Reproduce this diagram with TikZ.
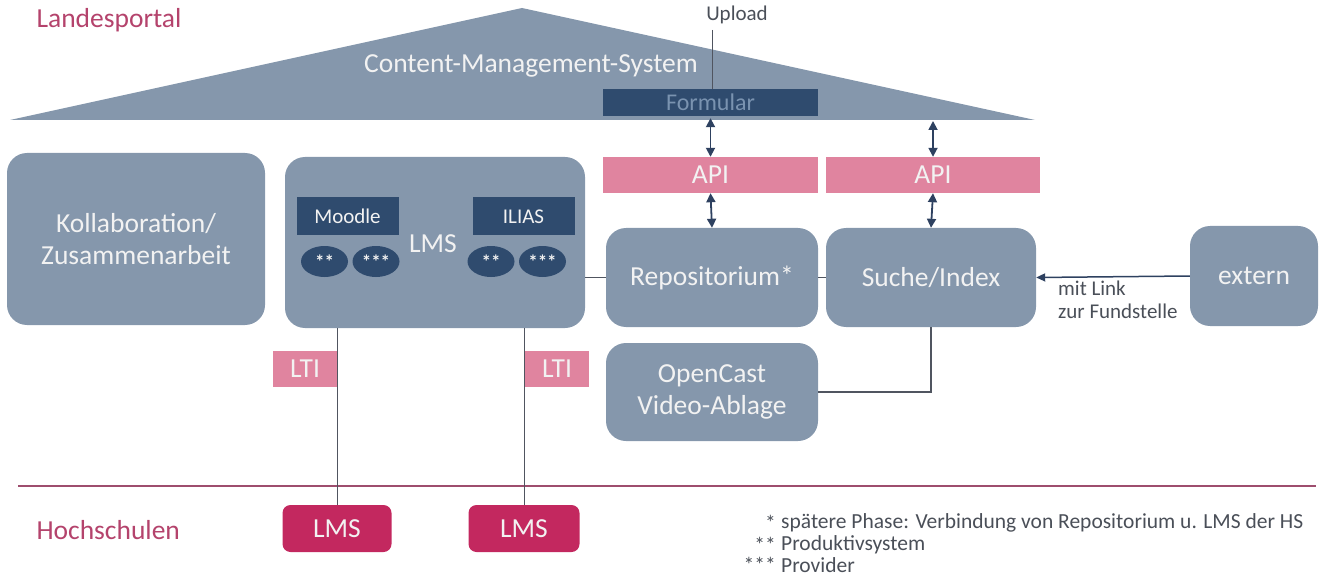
\documentclass[tikz,border=0pt]{standalone}
\usepackage{fontspec}
\setmainfont{Carlito}
\usetikzlibrary{arrows.meta,shapes.geometric}
\definecolor{boxgray}{HTML}{8597AC}
\definecolor{navy}{HTML}{2F4B6E}
\definecolor{apipink}{HTML}{E0849F}
\definecolor{lmsred}{HTML}{C3285F}
\definecolor{labelred}{HTML}{B4436C}
\definecolor{arrowc}{HTML}{2E4160}
\definecolor{linec}{HTML}{505560}
\definecolor{formtext}{HTML}{7A93B0}
\definecolor{txtlight}{HTML}{F2F2F2}
\definecolor{hline}{HTML}{9E4E6E}
\definecolor{foottext}{HTML}{4A4F58}
\begin{document}
\begin{tikzpicture}[x=1pt,y=-1pt,
  bigfont/.style={font=\fontsize{27.5}{32}\selectfont},
  smallfont/.style={font=\fontsize{21}{23}\selectfont},
  graybox/.style={fill=boxgray, rounded corners=20pt, inner sep=0pt, text=txtlight, bigfont, align=center},
  navybox/.style={fill=navy, inner sep=0pt, text=txtlight, smallfont},
  pinkbox/.style={fill=apipink, inner sep=0pt, text=txtlight, bigfont},
  lmsbox/.style={fill=lmsred, rounded corners=8pt, inner sep=0pt, text=txtlight, bigfont},
  oval/.style={ellipse, fill=navy, inner sep=0pt, minimum width=47pt, minimum height=31pt, text=txtlight, font=\fontsize{19}{19}\bfseries\selectfont},
  dbl/.style={{Triangle[length=9pt,width=9pt]}-{Triangle[length=9pt,width=9pt]}, line width=1.8pt, draw=arrowc},
  conn/.style={draw=linec, line width=1.2pt},
  region/.style={text=labelred, bigfont, anchor=west},
  foot/.style={font=\fontsize{21.5}{23}\selectfont, text=foottext}
]
\useasboundingbox (0,0) rectangle (1321,577);

% roof
\fill[boxgray] (10,120) -- (522,8) -- (1035,120) -- cycle;
\node[bigfont, text=txtlight] (cms) at (531,66) {Content-Management-System};
\node[navybox, text=formtext, font=\fontsize{24}{26}\selectfont, minimum width=215pt, minimum height=27pt] (formular) at (710.5,102.5) {Formular};
\node[smallfont, text=foottext] (upload) at (737,15) {Upload};
\coordinate (uptop) at (712,30);
\draw[conn, line width=1pt] (uptop) -- (uptop |- formular.north);
\coordinate (roofbase) at (933,121);

\node[region] (landes) at (33,20) {Landesportal};

% API boxes
\node[pinkbox, minimum width=215pt, minimum height=36pt] (api1) at (710.5,175) {API};
\node[pinkbox, minimum width=214pt, minimum height=36pt] (api2) at (933,175) {API};

% main boxes
\node[graybox, minimum width=258pt, minimum height=172pt] (kollab) at (136,239) {Kollaboration/\\Zusammenarbeit};
\node[graybox, minimum width=300pt, minimum height=171pt] (lmsbig) at (435,242.5) {};
\node[text=txtlight, bigfont] (lmstext) at (433,244) {LMS};
\node[navybox, minimum width=102pt, minimum height=38pt] (moodle) at (347.5,216.5) {Moodle};
\node[navybox, minimum width=102pt, minimum height=38pt] (ilias) at (523.5,216.5) {ILIAS};
\node[oval] (m1) at (324.5,261.5) {\raisebox{-5pt}{**}};
\node[oval] (m2) at (376,261.5) {\raisebox{-5pt}{***}};
\node[oval] (i1) at (491,261.5) {\raisebox{-5pt}{**}};
\node[oval] (i2) at (542.5,261.5) {\raisebox{-5pt}{***}};

\node[graybox, minimum width=212pt, minimum height=99pt] (repo) at (712,277.5) {Repositorium*};
\node[graybox, minimum width=210pt, minimum height=99pt] (suche) at (931,277.5) {Suche/Index};
\node[graybox, minimum width=128pt, minimum height=100pt] (extern) at (1254,276) {extern};
\node[graybox, minimum width=212pt, minimum height=98pt] (opencast) at (712,392) {OpenCast\\Video-Ablage};

% LTI
\node[pinkbox, minimum width=64pt, minimum height=36pt] (lti1) at (305,369) {LTI};
\node[pinkbox, minimum width=64pt, minimum height=36pt] (lti2) at (557,369) {LTI};

% separator
\coordinate (sepl) at (18,486);
\coordinate (sepr) at (1316,486);
\draw[draw=hline, line width=1.3pt] (sepl) -- (sepr);

% Hochschulen
\node[region] (hoch) at (33,530) {Hochschulen};
\node[lmsbox, minimum width=109pt, minimum height=47pt] (lms1) at (337,528.5) {LMS};
\node[lmsbox, minimum width=111pt, minimum height=47pt] (lms2) at (524,528.5) {LMS};

% connectors
\draw[dbl] (formular.south) ++(0,2) -- (api1.north);
\draw[dbl] (roofbase) -- (api2.north);
\draw[dbl] (api1.south) -- (repo.north);
\draw[dbl] (api2.south) -- (suche.north);
\draw[conn] (lmsbig.east |- repo.west) -- (repo.west);
\draw[conn] (repo.east) -- (suche.west);
\draw[conn] (suche.south) |- (opencast.east);
\draw[-{Triangle[length=9pt,width=8pt]}, line width=1.5pt, draw=arrowc] (extern.west) -- (suche.east);
\node[smallfont, text=foottext, align=left, anchor=north west, inner sep=0pt] (mitlink) at (1058,281) {mit Link\\zur Fundstelle};
\draw[conn, line width=1pt] (lms1.north) -- (lms1.north |- lmsbig.south);
\draw[conn, line width=1pt] (lms2.north) -- (lms2.north |- lmsbig.south);

% footnotes
\node[foot, anchor=east, inner sep=0pt] (f1s) at (776,523) {*};
\node[foot, anchor=west, inner sep=0pt] (f1) at (781,523) {spätere Phase: Verbindung von Repositorium u. LMS der HS};
\node[foot, anchor=east, inner sep=0pt] (f2s) at (776,545) {**};
\node[foot, anchor=west, inner sep=0pt] (f2) at (781,545) {Produktivsystem};
\node[foot, anchor=east, inner sep=0pt] (f3s) at (776,565) {***};
\node[foot, anchor=west, inner sep=0pt] (f3) at (781,565) {Provider};
\end{tikzpicture}
\end{document}
